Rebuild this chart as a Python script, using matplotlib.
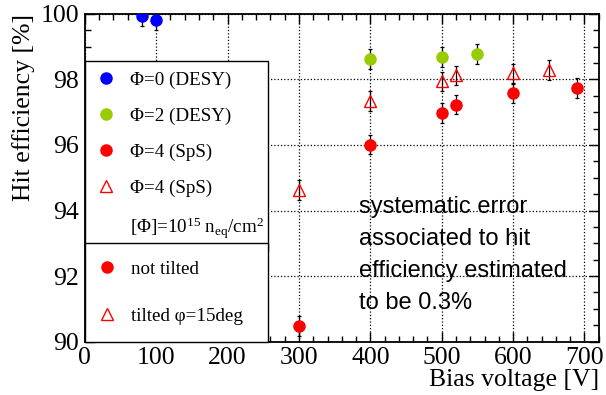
import matplotlib
matplotlib.use("Agg")
import matplotlib.pyplot as plt
from matplotlib.lines import Line2D
from matplotlib.ticker import MultipleLocator

plt.rcParams["font.family"] = ["Liberation Serif", "DejaVu Serif"]
plt.rcParams["mathtext.fontset"] = "custom"
plt.rcParams["mathtext.rm"] = "Liberation Serif"
plt.rcParams["mathtext.it"] = "Liberation Serif:italic"

# data
desy0_v = [80, 100]
desy0_eff = [99.92, 99.82]
desy0_err = [0.3, 0.3]

desy2_v = [400, 500, 550]
desy2_eff = [98.63, 98.68, 98.78]
desy2_err = [0.3, 0.3, 0.3]

sps4_v = [300, 400, 500, 520, 600, 690]
sps4_eff = [90.47, 96.01, 96.97, 97.23, 97.57, 97.73]
sps4_err = [0.3, 0.3, 0.3, 0.3, 0.3, 0.3]

tilt_v = [300, 400, 500, 520, 600, 650]
tilt_eff = [94.63, 97.35, 97.94, 98.12, 98.18, 98.28]
tilt_err = [0.3, 0.3, 0.3, 0.3, 0.3, 0.3]

blue = "#0000ff"
green = "#99cc00"
red = "#ff0000"

fig = plt.figure(figsize=(6.06, 3.95), dpi=100)
ax = fig.add_axes([0.140, 0.135, 0.848, 0.830])

eb = dict(fmt="none", ecolor="black", elinewidth=0.9, capsize=1.5, capthick=0.9, zorder=3)
ax.errorbar(desy0_v, desy0_eff, yerr=desy0_err, **eb)
ax.errorbar(desy2_v, desy2_eff, yerr=desy2_err, **eb)
ax.errorbar(sps4_v, sps4_eff, yerr=sps4_err, **eb)
ax.errorbar(tilt_v, tilt_eff, yerr=tilt_err, **eb)

ax.plot(desy0_v, desy0_eff, "o", color=blue, ms=8, ls="none", zorder=4)
ax.plot(desy2_v, desy2_eff, "o", color=green, ms=8, ls="none", zorder=4)
ax.plot(sps4_v, sps4_eff, "o", color=red, ms=8, ls="none", zorder=4)
ax.plot(tilt_v, tilt_eff, "^", mfc="none", mec=red, mew=1.0, ms=9, ls="none", zorder=4)

ax.set_xlim(0, 720)
ax.set_ylim(90, 100)
ax.xaxis.set_major_locator(MultipleLocator(100))
ax.xaxis.set_minor_locator(MultipleLocator(20))
ax.yaxis.set_major_locator(MultipleLocator(2))
ax.yaxis.set_minor_locator(MultipleLocator(0.5))
ax.tick_params(which="both", direction="in", top=True, right=True, labelsize=18.5, pad=4)
ax.tick_params(which="major", length=7, width=1)
ax.tick_params(which="minor", length=4, width=1)
for s in ax.spines.values():
    s.set_linewidth(1.3)
ax.grid(True, which="major", ls=":", color="black", lw=0.9)

ax.set_xlabel("Bias voltage [V]", fontsize=18.5, loc="right", labelpad=0)
ax.set_ylabel("Hit efficiency [%]", fontsize=18.5, loc="top", labelpad=4)

h1 = [
    Line2D([], [], marker="o", color=blue, ms=8, ls="none"),
    Line2D([], [], marker="o", color=green, ms=8, ls="none"),
    Line2D([], [], marker="o", color=red, ms=8, ls="none"),
    Line2D([], [], marker="^", mfc="none", mec=red, ms=9, ls="none"),
    Line2D([], [], ls="none"),
]
l1 = ["Φ=0 (DESY)", "Φ=2 (DESY)", "Φ=4 (SpS)", "Φ=4 (SpS)",
      r"[Φ]=10$^{15}$ n$_{\mathrm{eq}}$/cm$^{2}$"]
leg1 = ax.legend(h1, l1, loc="upper left", bbox_to_anchor=(0, 0.855, 0.356, 0),
                 mode="expand", borderaxespad=0, fontsize=13.7, labelspacing=0.98,
                 handletextpad=0.65, handlelength=1.2, borderpad=0.52,
                 fancybox=False, edgecolor="black", framealpha=1)
leg1.get_frame().set_linewidth(1.0)
leg1.set_zorder(5)
ax.add_artist(leg1)

h2 = [
    Line2D([], [], marker="o", color=red, ms=8, ls="none"),
    Line2D([], [], marker="^", mfc="none", mec=red, ms=9, ls="none"),
]
l2 = ["not tilted", "tilted φ=15deg"]
leg2 = ax.legend(h2, l2, loc="lower left", bbox_to_anchor=(0, 0.0, 0.356, 0),
                 mode="expand", borderaxespad=0, fontsize=13.7, labelspacing=1.55,
                 handletextpad=1.05, handlelength=0.5, borderpad=0.9,
                 fancybox=False, edgecolor="black", framealpha=1)
leg2.get_frame().set_linewidth(1.0)
leg2.set_zorder(6)

ax.text(0.533, 0.445, "systematic error\nassociated to hit\nefficiency estimated\nto be 0.3%",
        transform=ax.transAxes, ha="left", va="top", fontsize=17,
        family=["Liberation Sans", "DejaVu Sans"], linespacing=1.6)

fig.savefig("out.png", dpi=100)
